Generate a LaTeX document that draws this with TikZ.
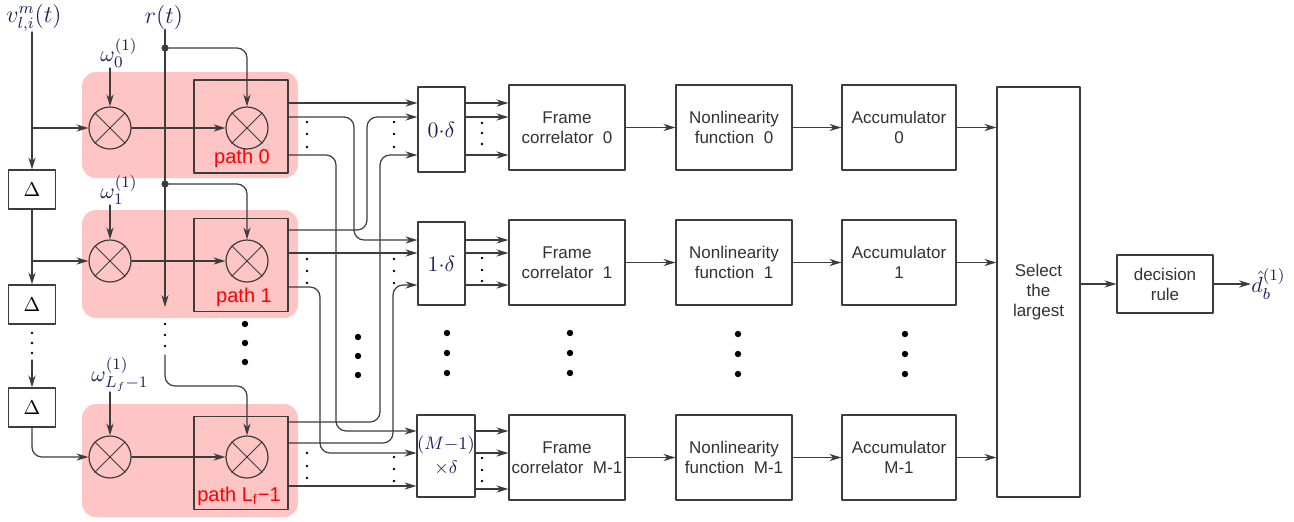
\documentclass[tikz,border=0pt]{standalone}
\usepackage{fontspec}
\newfontfamily\blkfont{Liberation Sans}
\usetikzlibrary{arrows.meta}
\definecolor{pathbg}{RGB}{255,196,196}
\definecolor{linecol}{RGB}{60,60,60}
\definecolor{txtcol}{RGB}{50,50,50}
\definecolor{mathcol}{RGB}{25,32,90}
\begin{document}
\begin{tikzpicture}[x=0.5pt,y=-0.5pt,line cap=round,line join=round,>={Stealth[length=6pt,width=3.6pt]},
    wire/.style={draw=linecol,line width=0.6pt,rounded corners=5pt},
    blk/.style={draw=linecol,line width=0.6pt,fill=white,text=txtcol,align=center,inner sep=0pt,font=\blkfont\fontsize{8.5}{10}\selectfont},
    dbox/.style={draw=linecol,line width=0.6pt,fill=white,text=mathcol,align=center,inner sep=0pt,font=\fontsize{10.5}{12}\selectfont},
    dlbox/.style={draw=linecol,line width=0.6pt,fill=white,minimum width=23.5pt,minimum height=19.5pt,font=\fontsize{10}{12}\selectfont},
    pbox/.style={draw=linecol,line width=0.6pt,minimum width=47pt,minimum height=46.5pt},
    mult/.style={circle,draw=linecol,line width=0.6pt,minimum size=21pt,inner sep=0pt},
    ptxt/.style={text=red,inner sep=0pt,font=\blkfont\fontsize{10}{12}\selectfont},
    lbl/.style={text=mathcol,inner sep=0pt,font=\fontsize{11}{13}\selectfont},
    bg/.style={fill=pathbg,rounded corners=7pt}]
    \useasboundingbox (0,0) rectangle (1294,521);
    % shaded paths
    \fill[bg] (82,72) rectangle (298,178);
    \fill[bg] (82,210) rectangle (298,318);
    \fill[bg] (82,404) rectangle (298,517);
    % inputs
    \node[lbl,font=\fontsize{12}{14}\selectfont] (vin) at (34,18) {$v_{l,i}^{m}(t)$};
    \node[lbl,font=\fontsize{12.5}{14}\selectfont] (rin) at (164,17) {$r(t)$};
    % tapped delay line
    \node[dlbox] (dl1) at (32,189.5) {$\Delta$};
    \node[dlbox] (dl2) at (32,304.5) {$\Delta$};
    \node[dlbox] (dl3) at (32,407.5) {$\Delta$};
    % path blocks
    \node[pbox] (p0) at (241,126.5) {};
    \node[pbox] (p1) at (241,265) {};
    \node[pbox] (pL) at (241,463) {};
    \node[ptxt] (t0) at (242,158) {path 0};
    \node[ptxt] (t1) at (244,297) {path 1};
    \node[ptxt] (tL) at (239,496) {path L\textsubscript{f}−1};
    \node[mult] (m00) at (110,128) {};
    \node[mult] (m01) at (247,128) {};
    \node[mult] (m10) at (110,261) {};
    \node[mult] (m11) at (247,261) {};
    \node[mult] (mL0) at (110,457) {};
    \node[mult] (mL1) at (247,457) {};
    \foreach \m in {m00,m01,m10,m11,mL0,mL1}
        \draw[linecol,line width=0.5pt] (\m.north west) -- (\m.south east) (\m.north east) -- (\m.south west);
    \node[lbl,anchor=south west] (om0) at (100,68) {$\omega_0^{(1)}$};
    \node[lbl,anchor=south west] (om1) at (100,205) {$\omega_1^{(1)}$};
    \node[lbl,anchor=south west] (omL) at (91,392) {$\omega_{L_f-1}^{(1)}$};
    \draw[wire,->] (om0.south -| m00) -- (m00);
    \draw[wire,->] (om1.south -| m10) -- (m10);
    \draw[wire,->] (omL.south -| mL0) -- (mL0);
    % input signal v
    \draw[wire,->] (vin.south -| dl1) -- (dl1);
    \draw[wire,->] (dl1 |- m00) -- (m00);
    \draw[wire,->] (dl1) -- (dl2);
    \draw[wire,->] (dl1 |- m10) -- (m10);
    \coordinate (vgap) at (32,360);
    \draw[wire,->] (vgap) -- (dl3);
    \draw[wire,->] (dl3) |- (mL0);
    \draw[wire,->] (m00) -- (m01);
    \draw[wire,->] (m10) -- (m11);
    \draw[wire,->] (mL0) -- (mL1);
    % received signal r
    \coordinate (j0) at (165,48);
    \coordinate (j1) at (165,184);
    \coordinate (rend) at (165,307);
    \coordinate (rgap) at (165,355);
    \draw[wire,->] (rin.south -| rend) -- (rend);
    \draw[wire,->] (j0) -| (m01);
    \draw[wire,->] (j1) -| (m11);
    \draw[wire,->] (rgap) -- (165,386) -| (mL1);
    \fill[linecol] (j0) circle (1.8pt) (j1) circle (1.8pt);
    % shifts
    \node[dbox,minimum width=23.5pt,minimum height=42.5pt] (d0) at (441.5,129.5) {$0{\cdot}\delta$};
    \node[dbox,minimum width=23.5pt,minimum height=41.5pt] (d1) at (441.5,263.5) {$1{\cdot}\delta$};
    \node[dbox,minimum width=28pt,minimum height=41pt,font=\fontsize{9.5}{12}\selectfont] (dM) at (446,456) {$(M{-}1)$\\$\times\delta$};
    % path outputs to shifts
    \draw[wire,->] (p0.east |- 0,103) -- (d0.west |- 0,103);
    \draw[wire,->] (p0.east |- 0,117) -- (354,117) -- (354,240) -- (d1.west |- 0,240);
    \draw[wire,->] (p0.east |- 0,155) -- (336,155) -- (336,431) -- (dM.west |- 0,431);
    \draw[wire,->] (p1.east |- 0,230) -- (367,230) -- (367,117) -- (d0.west |- 0,117);
    \draw[wire,->] (p1.east |- 0,253) -- (d1.west |- 0,253);
    \draw[wire,->] (p1.east |- 0,287) -- (320,287) -- (320,453) -- (dM.west |- 0,453);
    \draw[wire,->] (pL.east |- 0,422) -- (380,422) -- (380,155) -- (d0.west |- 0,155);
    \draw[wire,->] (pL.east |- 0,443) -- (393,443) -- (393,285) -- (d1.west |- 0,285);
    \draw[wire,->] (pL.east |- 0,486) -- (dM.west |- 0,486);
    % correlator rows
    \node[blk,minimum width=58pt,minimum height=42.5pt] (fc0) at (567,127.5) {Frame\\correlator\ \ 0};
    \node[blk,minimum width=58pt,minimum height=42.5pt] (nl0) at (734,127.5) {Nonlinearity\\function\ \ 0};
    \node[blk,minimum width=57pt,minimum height=42.5pt] (ac0) at (899,127.5) {Accumulator\\0};
    \node[blk,minimum width=58pt,minimum height=42.5pt] (fc1) at (567,262.5) {Frame\\correlator\ \ 1};
    \node[blk,minimum width=58pt,minimum height=42.5pt] (nl1) at (734,262.5) {Nonlinearity\\function\ \ 1};
    \node[blk,minimum width=57pt,minimum height=42.5pt] (ac1) at (899,262.5) {Accumulator\\1};
    \node[blk,minimum width=58pt,minimum height=42.5pt] (fcM) at (567,457.5) {Frame\\correlator\ \ M-1};
    \node[blk,minimum width=58pt,minimum height=42.5pt] (nlM) at (734,457.5) {Nonlinearity\\function\ \ M-1};
    \node[blk,minimum width=57pt,minimum height=42.5pt] (acM) at (899,457.5) {Accumulator\\M-1};
    \node[blk,minimum width=41.5pt,minimum height=205pt] (sel) at (1038.5,292) {Select\\the\\largest};
    \node[blk,minimum width=48pt,minimum height=29pt] (dec) at (1165,284) {decision\\rule};
    \node[lbl,anchor=west] (dout) at (1251,284) {$\hat{d}_b^{(1)}$};
    \foreach \y in {103,117,155} \draw[wire,->] (d0.east |- 0,\y) -- (fc0.west |- 0,\y);
    \foreach \y in {240,253,285} \draw[wire,->] (d1.east |- 0,\y) -- (fc1.west |- 0,\y);
    \foreach \y in {431,453,489} \draw[wire,->] (dM.east |- 0,\y) -- (fcM.west |- 0,\y);
    \foreach \r in {0,1,M} {
        \draw[wire,->] (fc\r) -- (nl\r);
        \draw[wire,->] (nl\r) -- (ac\r);
        \draw[wire,->] (ac\r.east) -- (ac\r.east -| sel.west);
    }
    \draw[wire,->] (sel.east |- dec) -- (dec);
    \draw[wire,->] (dec) -- (dout);
    % continuation dots
    \foreach \x/\y in {245/324,245/343,245/362,358/337,358/356,358/375,
        447/333,447/353,447/373,570/333,570/353,570/373,
        738/334,738/354,738/374,905/334,905/354,905/374}
        \fill (\x,\y) circle (1.6pt);
    \foreach \x/\y in {32/333,32/343,32/353,165/324,165/335,165/346,
        307/122,307/134,307/147,307/259,307/271,307/283,307/453,307/466,307/478,
        394/122,394/134,394/147,394/259,394/271,394/283,394/457,394/469,394/481,
        482/123,482/133,482/144,482/258,482/270,482/281,482/458,482/470,482/481}
        \fill (\x,\y) circle (0.7pt);
\end{tikzpicture}
\end{document}
